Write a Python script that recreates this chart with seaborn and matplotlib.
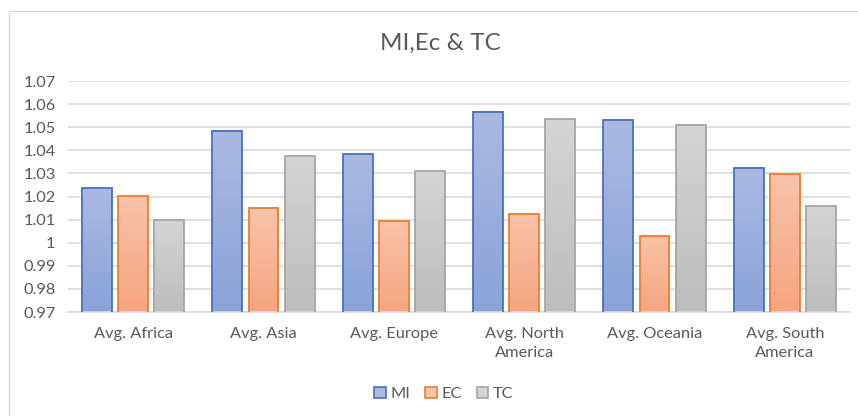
import numpy as np
import pandas as pd
import matplotlib
matplotlib.use("Agg")
import matplotlib.pyplot as plt
import seaborn as sns
from matplotlib.colors import LinearSegmentedColormap
from matplotlib.patches import Rectangle

regions = ["Avg. Africa", "Avg. Asia", "Avg. Europe", "Avg. North\nAmerica",
           "Avg. Oceania", "Avg. South\nAmerica"]
mi = [1.0236, 1.0484, 1.0382, 1.0567, 1.0533, 1.0325]
ec = [1.0204, 1.0150, 1.0092, 1.0125, 1.0031, 1.0298]
tc = [1.0100, 1.0375, 1.0310, 1.0535, 1.0510, 1.0158]
series = ["MI", "EC", "TC"]

df = pd.DataFrame({"region": regions * 3,
                   "series": ["MI"] * 6 + ["EC"] * 6 + ["TC"] * 6,
                   "value": mi + ec + tc})

edge = {"MI": "#4472C4", "EC": "#ED7D31", "TC": "#A5A5A5"}
grad = {"MI": ("#ABB9E1", "#8AA3D9"),
        "EC": ("#F8C3A9", "#F5A57F"),
        "TC": ("#D4D4D4", "#BDBDBD")}
mid = {k: v[0] for k, v in grad.items()}

sns.set_style("white")
plt.rcParams["font.family"] = ["Lato", "DejaVu Sans"]
text_col = "#595959"
ymin, ymax = 0.97, 1.07

fig = plt.figure(figsize=(8.58, 4.16), dpi=100)
ax = fig.add_axes([68 / 858, 1 - 312 / 416, (850 - 68) / 858, (312 - 81) / 416])

sns.barplot(data=df, x="region", y="value", hue="series", hue_order=series,
            palette=mid, width=0.83, gap=0.17, ax=ax, legend=False)

# gradient fill for each bar, from the axis floor up to the value
for i, cont in enumerate(ax.containers):
    name = series[i]
    cmap = LinearSegmentedColormap.from_list(name, [grad[name][0], grad[name][1]])
    for p in cont.patches:
        x0, w = p.get_x(), p.get_width()
        top = p.get_y() + p.get_height()
        p.set_facecolor("none")
        p.set_edgecolor(edge[name])
        p.set_linewidth(1.3)
        p.set_zorder(3)
        ax.imshow(np.linspace(0, 1, 64).reshape(-1, 1), cmap=cmap,
                  extent=[x0, x0 + w, ymin, top], aspect="auto",
                  origin="upper", zorder=2)

ax.set_ylim(ymin, ymax)
ax.set_xlim(-0.5, 5.5)
ax.set_yticks(np.arange(ymin, ymax + 0.0001, 0.01))
ax.set_yticklabels(["0.97", "0.98", "0.99", "1", "1.01", "1.02", "1.03",
                    "1.04", "1.05", "1.06", "1.07"])

ax.grid(axis="y", color="#D9D9D9", linewidth=1.2, zorder=0)
ax.set_axisbelow(True)
for s in ["top", "right", "left"]:
    ax.spines[s].set_visible(False)
ax.spines["bottom"].set_color("#D9D9D9")
ax.spines["bottom"].set_linewidth(1.2)
ax.tick_params(axis="both", length=0, colors=text_col, labelsize=11.8)
ax.tick_params(axis="x", pad=11)
ax.tick_params(axis="y", pad=9)
ax.set_xlabel("")
ax.set_ylabel("")
for lab in ax.get_xticklabels():
    lab.set_linespacing(1.45)

fig.text(440 / 858, 1 - 43 / 416, "MI,Ec & TC", ha="center", va="center",
         fontsize=17.5, color=text_col)

handles = [Rectangle((0, 0), 1, 1, facecolor=grad[s][0], edgecolor=edge[s],
                     linewidth=1.2) for s in series]
fig.legend(handles, series, loc="center", bbox_to_anchor=(444 / 858, 1 - 394 / 416),
           ncol=3, frameon=False, fontsize=11.8, handlelength=0.7, handleheight=0.7,
           handletextpad=0.3, columnspacing=0.9, labelcolor=text_col)

fig.patches.append(Rectangle((9 / 858, -0.1), 1.2, 1 - 11 / 416 + 0.1,
                             transform=fig.transFigure, fill=False,
                             edgecolor="#D9D9D9", linewidth=1.0))

fig.savefig("out.png", dpi=100)
